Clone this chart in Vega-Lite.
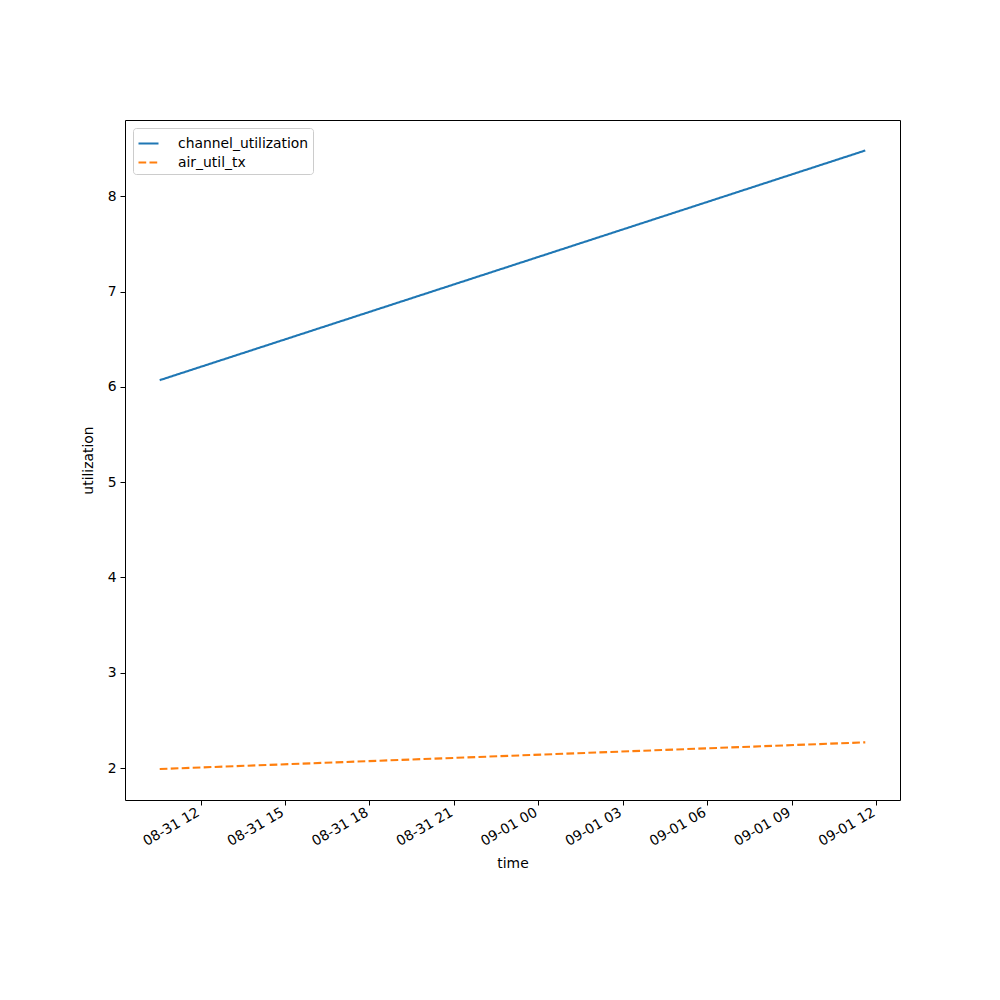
{
  "$schema": "https://vega.github.io/schema/vega-lite/v6.json",
  "width": 775,
  "height": 680,
  "autosize": "none",
  "padding": {"left": 125, "top": 120, "right": 100, "bottom": 200},
  "background": "white",
  "config": {
    "font": "DejaVu Sans",
    "view": {"stroke": "black", "strokeWidth": 1},
    "axis": {
      "grid": false,
      "domain": false,
      "tickColor": "black",
      "tickSize": 5,
      "tickWidth": 1,
      "labelColor": "black",
      "labelFontSize": 13.9,
      "labelPadding": 4,
      "titleFontSize": 13.9,
      "titleFontWeight": "normal",
      "titleColor": "black",
      "labelFont": "DejaVu Sans",
      "titleFont": "DejaVu Sans"
    }
  },
  "data": {
    "values": [
      {"time": "2024-08-31T10:33:00Z", "series": "channel_utilization", "utilization": 6.07},
      {"time": "2024-09-01T11:37:00Z", "series": "channel_utilization", "utilization": 8.48},
      {"time": "2024-08-31T10:33:00Z", "series": "air_util_tx", "utilization": 1.99},
      {"time": "2024-09-01T11:37:00Z", "series": "air_util_tx", "utilization": 2.27}
    ]
  },
  "mark": {"type": "line", "strokeWidth": 2.1},
  "encoding": {
    "x": {
      "field": "time",
      "type": "temporal",
      "title": "time",
      "scale": {
        "type": "utc",
        "domain": [
          {"year": 2024, "month": 8, "date": 31, "hours": 9, "minutes": 19, "utc": true},
          {"year": 2024, "month": 9, "date": 1, "hours": 12, "minutes": 51, "utc": true}
        ]
      },
      "axis": {
        "values": [
          {"year": 2024, "month": 8, "date": 31, "hours": 12, "utc": true},
          {"year": 2024, "month": 8, "date": 31, "hours": 15, "utc": true},
          {"year": 2024, "month": 8, "date": 31, "hours": 18, "utc": true},
          {"year": 2024, "month": 8, "date": 31, "hours": 21, "utc": true},
          {"year": 2024, "month": 9, "date": 1, "hours": 0, "utc": true},
          {"year": 2024, "month": 9, "date": 1, "hours": 3, "utc": true},
          {"year": 2024, "month": 9, "date": 1, "hours": 6, "utc": true},
          {"year": 2024, "month": 9, "date": 1, "hours": 9, "utc": true},
          {"year": 2024, "month": 9, "date": 1, "hours": 12, "utc": true}
        ],
        "format": "%m-%d %H",
        "labelAngle": -30,
        "labelAlign": "right",
        "labelBaseline": "top",
        "labelPadding": 0,
        "labelOffset": -6,
        "titlePadding": 8
      }
    },
    "y": {
      "field": "utilization",
      "type": "quantitative",
      "title": "utilization",
      "scale": {"domain": [1.665, 8.80], "nice": false, "zero": false},
      "axis": {"values": [2, 3, 4, 5, 6, 7, 8], "titlePadding": 12}
    },
    "color": {
      "field": "series",
      "type": "nominal",
      "scale": {"domain": ["channel_utilization", "air_util_tx"], "range": ["#1f77b4", "#ff7f0e"]},
      "legend": {
        "title": null,
        "orient": "none",
        "legendX": 8,
        "legendY": 8,
        "symbolType": "stroke",
        "symbolSize": 400,
        "symbolStrokeWidth": 2.1,
        "labelFontSize": 13.9,
        "labelColor": "black",
        "labelFont": "DejaVu Sans",
        "labelOffset": 18,
        "rowPadding": 0,
        "padding": 4,
        "strokeColor": "#cccccc",
        "fillColor": "white",
        "cornerRadius": 3
      }
    },
    "strokeDash": {
      "field": "series",
      "type": "nominal",
      "scale": {"domain": ["channel_utilization", "air_util_tx"], "range": [[1, 0], [7.7, 3.3]]},
      "legend": null
    }
  }
}
